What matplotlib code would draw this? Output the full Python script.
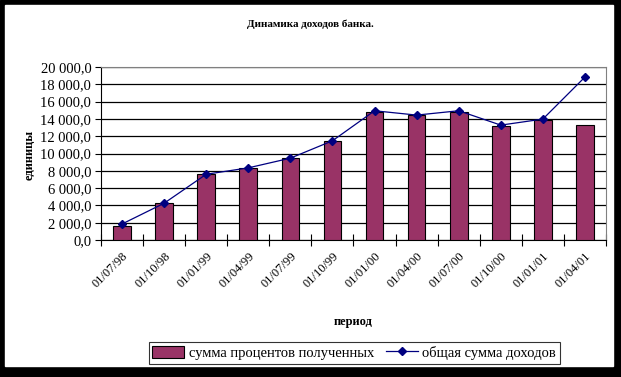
import numpy as np
import matplotlib.pyplot as plt
from matplotlib.patches import Rectangle
from matplotlib.ticker import FuncFormatter, FixedLocator

plt.rcParams['font.family'] = ['Liberation Serif', 'DejaVu Serif']

periods = ['01/07/98', '01/10/98', '01/01/99', '01/04/99', '01/07/99', '01/10/99',
           '01/01/00', '01/04/00', '01/07/00', '01/10/00', '01/01/01', '01/04/01']
interest = [1620, 4250, 7640, 8340, 9460, 11430, 14830, 14440, 14830, 13170, 13900, 13280]
total = [1850, 4250, 7600, 8340, 9460, 11470, 14940, 14440, 14940, 13280, 13980, 18840]

fig = plt.figure(figsize=(6.21, 3.77), dpi=100)
W, H = 621, 377
# black frame with shadow
fig.patches.append(Rectangle((0, 0), 1, 1, transform=fig.transFigure, color='black', zorder=-10))
fig.patches.append(Rectangle((5 / W, 1 - 366 / H), (613 - 5) / W, (366 - 5) / H,
                             transform=fig.transFigure, color='white', zorder=-9))

ax = fig.add_axes([101 / W, 1 - 240 / H, (606 - 101) / W, (240 - 67) / H])
x = np.arange(len(periods))
bars = ax.bar(x, interest, width=0.42, color='#993366', edgecolor='black', linewidth=0.8,
              label='сумма процентов полученных', zorder=3)
line, = ax.plot(x, total, color='#000080', marker='D', markersize=4.5, linewidth=0.9,
                label='общая сумма доходов', zorder=4)

ax.set_xlim(-0.5, len(periods) - 0.5)
ax.set_ylim(0, 20000)
ax.set_yticks(np.arange(0, 20001, 2000))
ax.yaxis.set_major_formatter(FuncFormatter(lambda v, p: f'{v:,.1f}'.replace(',', ' ').replace('.', ',')))
ax.grid(axis='y', color='black', linewidth=0.9, zorder=0)
ax.set_axisbelow(True)

ax.set_xticks(x)
ax.set_xticklabels(periods, rotation=45, ha='right', rotation_mode='anchor', fontsize=9)
ax.tick_params(axis='x', length=0, pad=7)
ax.xaxis.set_minor_locator(FixedLocator(np.arange(-0.5, len(periods), 1)))
ax.tick_params(axis='x', which='minor', length=8, direction='inout', width=0.8)
ax.tick_params(axis='y', length=4, width=0.8, labelsize=10.5, pad=3)

for s in ['top', 'right']:
    ax.spines[s].set_color('gray')
for s in ['left', 'bottom']:
    ax.spines[s].set_color('black')

fig.text(310 / W, 1 - 24 / H, 'Динамика доходов банка.', ha='center', va='center',
         fontsize=8, fontweight='bold')
fig.text(30 / W, 1 - 155 / H, 'единицы', rotation=90, ha='center', va='center',
         fontsize=9, fontweight='bold')
fig.text(353 / W, 1 - 322 / H, 'период', ha='center', va='center',
         fontsize=9, fontweight='bold')

leg = fig.legend([bars, line], [bars.get_label(), line.get_label()],
                 loc='center', bbox_to_anchor=(354 / W, 1 - 353 / H), ncol=2, fontsize=10.5,
                 frameon=True, fancybox=False, edgecolor='black', handlelength=2.2,
                 handleheight=0.9, columnspacing=0.8, handletextpad=0.3,
                 borderpad=0.25, borderaxespad=0)
leg.get_frame().set_linewidth(0.8)

fig.savefig('out.png', dpi=100)
